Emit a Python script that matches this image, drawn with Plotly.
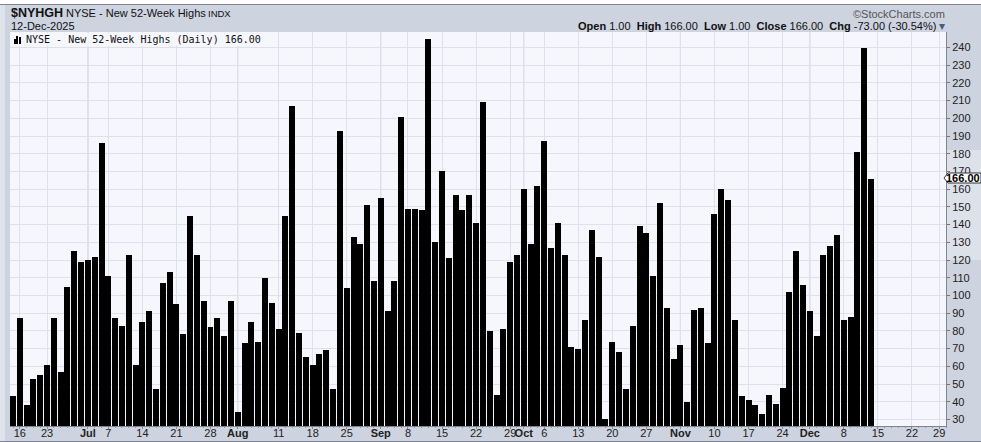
import plotly.graph_objects as go

# New 52-week highs per trading day, 13 Jun 2025 .. 12 Dec 2025
values = [43, 87, 38, 53, 55, 61, 87, 57, 105, 125, 119, 120, 122, 186, 111, 87, 83, 123, 61, 85, 91, 47,
          107, 113, 95, 78, 145, 123, 97, 82, 87, 77, 97, 34, 73, 85, 74, 110, 96, 81, 145, 207, 79, 65, 61, 67,
          69, 47, 193, 104, 133, 129, 151, 108, 155, 91, 108, 201, 149, 149, 148, 245, 130, 170, 121, 157, 148,
          157, 141, 209, 80, 44, 81, 119, 123, 160, 129, 162, 187, 127, 141, 123, 71, 70, 86, 137, 122, 30, 74,
          68, 47, 83, 139, 135, 111, 152, 93, 64, 72, 40, 92, 93, 73, 146, 160, 154, 86, 43, 41, 38, 33, 44, 39,
          48, 102, 125, 106, 91, 77, 123, 128, 134, 86, 88, 181, 240, 166]
tick_idx = [1, 5, 11, 14, 19, 24, 29, 33, 39, 44, 49, 54, 58, 63, 68, 73, 75, 78, 83, 88, 93, 98, 103, 108, 113,
            117, 122, 127, 132, 136]
tick_labels = ["16", "23", "<b>Jul</b>", "7", "14", "21", "28", "<b>Aug</b>", "11", "18", "25", "<b>Sep</b>", "8",
               "15", "22", "29", "<b>Oct</b>", "6", "13", "20", "27", "<b>Nov</b>", "10", "17", "24", "<b>Dec</b>",
               "8", "15", "22", "29"]
month_idx = [11, 33, 54, 75, 98, 117]
y_ticks = list(range(30, 250, 10))

W, H = 981, 442
L, R, T, B = 10, 946, 32, 426
px = lambda x: (x - L) / (R - L)
py = lambda y: 1 - (y - T) / (B - T)
PANEL = "#cdd3df"
SANS = "Liberation Sans"


def rect(x0, y0, x1, y1, color, layer="below"):
    return dict(type="rect", xref="paper", yref="paper", x0=px(x0), x1=px(x1), y0=py(y0), y1=py(y1),
                fillcolor=color, line_width=0, layer=layer)


def note(x, y, text, size=11, anchor="left", color="#111", family=SANS):
    return dict(xref="paper", yref="paper", x=px(x), y=py(y), text=text, showarrow=False, xanchor=anchor,
                yanchor="middle", align=anchor, font=dict(size=size, color=color, family=family),
                borderpad=0, xshift=0, yshift=0)


fig = go.Figure(go.Bar(x=list(range(len(values))), y=values, marker=dict(color="#000000", line_width=0),
                       width=0.88, hoverinfo="skip"))

shapes = [
    rect(0, 0, W, 4, "#ffffff"),
    rect(0, 4, W, 5, "#7e8494"),
    rect(0, 5, 5, 441, "#dfe3ec"),
    rect(0, 441, W, 442, "#7e8494"),
    rect(946, 150, W, 260, "#dde1ea"),
]
# month grid lines a little darker
for m in month_idx:
    shapes.append(dict(type="line", xref="x", yref="paper", x0=m, x1=m, y0=0, y1=1,
                       line=dict(color="#c4c7d3", width=1), layer="below"))
# legend band, icon and price tag
shapes.append(rect(11, 33, 262, 46, "#f5f7fc", "above"))
for x0, y0 in [(14, 39), (16, 36), (19, 37)]:
    shapes.append(rect(x0, y0, x0 + 2, 44, "#000000", "above"))
tag = [(944, 178), (948, 173), (981, 173), (981, 183), (948, 183)]
shapes.append(dict(type="path", xref="paper", yref="paper",
                   path="M " + " L ".join(f"{px(a):.5f},{py(b):.5f}" for a, b in tag) + " Z",
                   fillcolor="#ffffff", line=dict(color="#333333", width=1), layer="above"))

annotations = [
    note(10, 13, "<b>$NYHGH</b>", 12.5),
    note(65, 13, "NYSE - New 52-Week Highs", 11),
    note(207, 14, "INDX", 9.5),
    note(10, 26, "12-Dec-2025", 11),
    note(946, 14, "©StockCharts.com", 11, "right", "#555"),
    note(937, 26, "<b>Open</b> 1.00  <b>High</b> 166.00  <b>Low</b> 1.00  <b>Close</b> 166.00  <b>Chg</b> -73.00 (-30.54%)",
         11, "right"),
    note(938, 26, "▾", 12, "left", "#4a5a80"),
    note(25, 40, "NYSE - New 52-Week Highs (Daily) 166.00", 10, family="DejaVu Sans Mono"),
    note(981, 178, "<b>166.00</b>", 11, "right", "#000"),
]

fig.update_layout(
    width=W, height=H, margin=dict(l=L, r=W - R, t=T, b=H - B), autosize=False,
    paper_bgcolor=PANEL, plot_bgcolor="#f5f7fc", showlegend=False, bargap=0,
    shapes=shapes, annotations=annotations, font=dict(family=SANS, size=11, color="#222"),
    xaxis=dict(range=[-0.44, 137], tickmode="array", tickvals=tick_idx, ticktext=tick_labels, tickangle=0,
               automargin=False, ticklabelstandoff=-5,
               showgrid=True, gridcolor="#dfe1ea", gridwidth=1, zeroline=False, ticks="outside", ticklen=2,
               tickcolor="#888", showline=True, linecolor="#7e8494", linewidth=1,
               tickfont=dict(size=11, color="#222", family=SANS),
               minor=dict(tickmode="array", tickvals=list(range(0, 138)), ticks="outside", ticklen=1,
                          tickcolor="#999", showgrid=False)),
    yaxis=dict(range=[26.3, 248.75], side="right", tickmode="array", tickvals=y_ticks, automargin=False,
               ticktext=[str(v) for v in y_ticks], showgrid=True, gridcolor="#dfe1ea", gridwidth=1,
               zeroline=False, ticks="outside", ticklen=3, tickcolor="#777", showline=True,
               linecolor="#7e8494", linewidth=1, tickfont=dict(size=11, color="#222", family=SANS)),
)

fig.write_html("out.html", config=dict(displayModeBar=False),
               post_script="document.body.style.margin='0';document.body.style.overflow='hidden';")
